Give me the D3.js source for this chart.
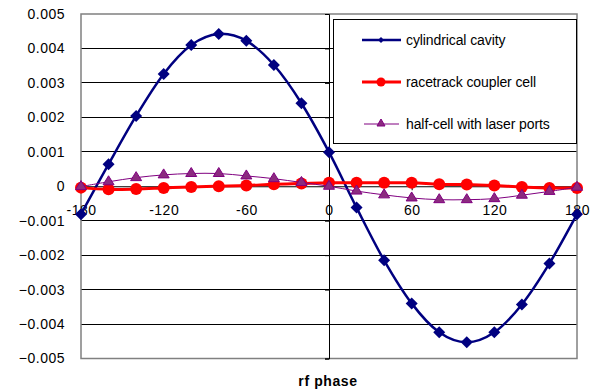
<!DOCTYPE html>
<html><head><meta charset="utf-8">
<script src="https://cdn.jsdelivr.net/npm/d3@7"></script>
<style>body{margin:0;background:#fff}svg{display:block;font-family:"Liberation Sans",Arial,sans-serif}</style>
</head><body><svg id="c" width="600" height="389"></svg>
<script>
const phases = [-180,-160,-140,-120,-100,-80,-60,-40,-20,0,20,40,60,80,100,120,140,160,180];
const cylindrical = [-0.00081,0.00064,0.00204,0.00326,0.0041,0.00442,0.00422,0.00352,0.00241,0.00099,-0.00062,-0.00215,-0.0034,-0.00424,-0.00453,-0.00424,-0.00343,-0.00224,-0.00081];
const racetrack = [-0.00004,-0.00009,-0.00008,-0.00005,-0.00002,0,0.00002,0.00006,0.00008,0.0001,0.0001,0.0001,0.0001,0.00006,0.00005,0.00002,-0.00002,-0.00005,-0.00005];
const halfcell = [-0.00001,0.00013,0.00025,0.00033,0.00037,0.00037,0.0003,0.00022,0.00011,0,-0.00014,-0.00025,-0.00034,-0.00039,-0.00039,-0.00036,-0.00026,-0.00015,-0.00003];
const xTicks = [-180,-120,-60,0,60,120,180];
const yTicks = [-0.005,-0.004,-0.003,-0.002,-0.001,0,0.001,0.002,0.003,0.004,0.005];
const seriesNames = ["cylindrical cavity","racetrack coupler cell","half-cell with laser ports"];

const svg = d3.select("#c");
const L=81,R=577,T=14,B=358.5;
const x = d3.scaleLinear().domain([-180,180]).range([L,R]);
const y = d3.scaleLinear().domain([-0.005,0.005]).range([B,T]);

// gridlines
svg.append("g").selectAll("line").data(yTicks.filter(v=>v!==0 && Math.abs(v)<0.005)).join("line")
  .attr("x1",L).attr("x2",R).attr("y1",d=>y(d)).attr("y2",d=>y(d)).attr("stroke","#000").attr("stroke-width",1).attr("shape-rendering","crispEdges");
// plot border
svg.append("rect").attr("x",L).attr("y",T).attr("width",R-L).attr("height",B-T).attr("fill","none").attr("stroke","#808080").attr("stroke-width",1.5);

// y labels
svg.append("g").selectAll("text").data(yTicks).join("text")
  .attr("x",65).attr("y",d=>y(d)).attr("dy","0.35em").attr("text-anchor","end")
  .attr("font-size",14).attr("letter-spacing",0.5).attr("fill","#000").text(d=>d===0?"0":d3.format(".3f")(d));

// axes through zero
const xAxis = d3.axisBottom(x).tickValues(xTicks).tickSize(4).tickFormat(d=>d);
const gx = svg.append("g").attr("transform",`translate(0,${y(0)})`).call(xAxis);
gx.select(".domain").attr("stroke","#000");
gx.selectAll("text").attr("font-size",14).attr("letter-spacing",0.5).attr("font-family","Liberation Sans, Arial, sans-serif")
  .attr("y",24).attr("dy","0.35em");
const yAxis = d3.axisLeft(y).tickValues(yTicks).tickSize(4).tickFormat("");
const gy = svg.append("g").attr("transform",`translate(${x(0)},0)`).call(yAxis);
gy.select(".domain").attr("stroke","#000");

const line = d3.line().x((d,i)=>x(phases[i])).y(d=>y(d)).curve(d3.curveCatmullRom.alpha(0));

// cylindrical
svg.append("path").datum(cylindrical).attr("d",line).attr("fill","none").attr("stroke","#000080").attr("stroke-width",2.5);
svg.append("g").selectAll("path").data(cylindrical).join("path")
  .attr("d",d3.symbol(d3.symbolSquare,72)).attr("transform",(d,i)=>`translate(${x(phases[i])},${y(d)}) rotate(45)`).attr("fill","#000080");
// racetrack
svg.append("path").datum(racetrack).attr("d",line).attr("fill","none").attr("stroke","#ff0000").attr("stroke-width",3);
svg.append("g").selectAll("circle").data(racetrack).join("circle")
  .attr("cx",(d,i)=>x(phases[i])).attr("cy",d=>y(d)).attr("r",6).attr("fill","#ff0000");
// halfcell
svg.append("path").datum(halfcell).attr("d",line).attr("fill","none").attr("stroke","#800080").attr("stroke-width",1);
const tri = `M0,-5L5.5,4L-5.5,4Z`;
svg.append("g").selectAll("path").data(halfcell).join("path")
  .attr("d",tri).attr("transform",(d,i)=>`translate(${x(phases[i])},${y(d)-1})`).attr("fill","#8b2b7f").attr("stroke","#800080").attr("stroke-width",1);

// legend
const lg = svg.append("g");
lg.append("rect").attr("x",333.5).attr("y",19.5).attr("width",243).attr("height",124).attr("fill","#fff").attr("stroke","#000").attr("stroke-width",1);
const rows=[40,82,124];
const lcol=["#000080","#ff0000","#800080"];
const lw=[2.5,3,1];
rows.forEach((ry,i)=>{
  lg.append("line").attr("x1",i===2?364:362).attr("x2",i===2?399:401).attr("y1",ry).attr("y2",ry).attr("stroke",lcol[i]).attr("stroke-width",lw[i]);
  if(i===0) lg.append("path").attr("d",d3.symbol(d3.symbolSquare,18)).attr("transform",`translate(381,${ry}) rotate(45)`).attr("fill","#000080");
  if(i===1) lg.append("circle").attr("cx",381).attr("cy",ry).attr("r",4.5).attr("fill","#ff0000");
  if(i===2) lg.append("path").attr("d","M0,-4L4,3L-4,3Z").attr("transform",`translate(381,${ry-1})`).attr("fill","#8b2b7f").attr("stroke","#800080");
  lg.append("text").attr("x",406).attr("y",ry).attr("dy","0.35em").attr("font-size",14).attr("letter-spacing",-0.1).attr("fill","#000").text(seriesNames[i]);
});

svg.append("text").attr("x",328).attr("y",386).attr("text-anchor","middle").attr("font-size",14).attr("letter-spacing",0.6).attr("font-weight","bold").text("rf phase");
</script></body></html>
